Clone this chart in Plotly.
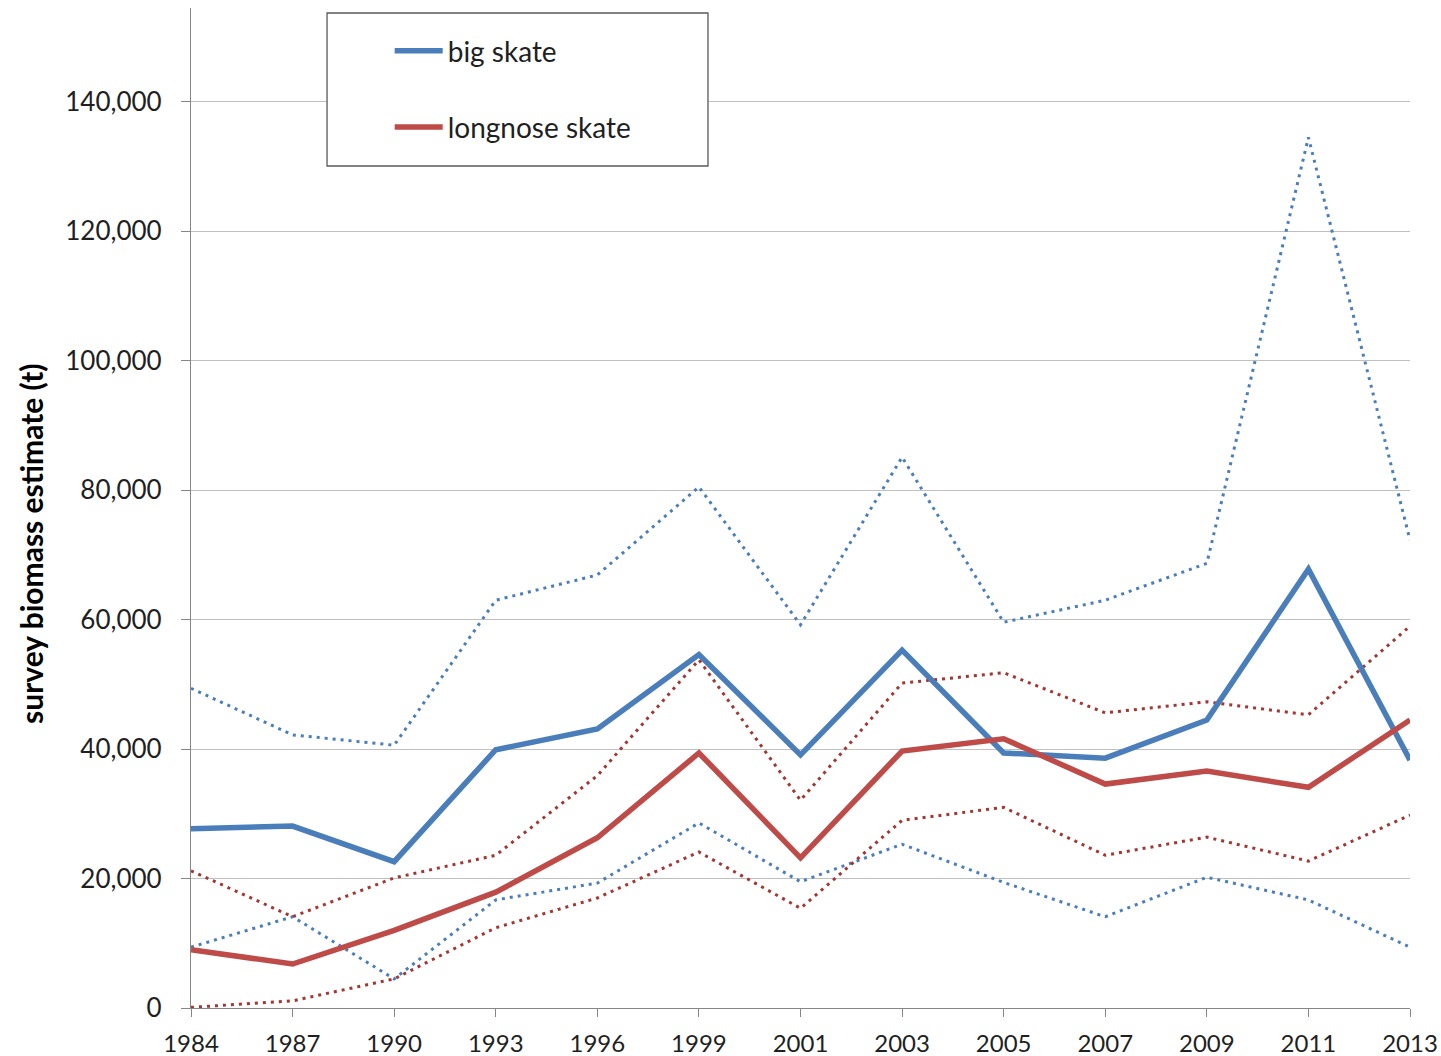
import plotly.graph_objects as go

# Survey years (categorical x axis)
years = ["1984", "1987", "1990", "1993", "1996", "1999", "2001",
         "2003", "2005", "2007", "2009", "2011", "2013"]

# Big skate biomass estimate (t) with lower / upper confidence bounds
big_skate = [27700, 28100, 22600, 39900, 43100, 54600, 39100,
             55300, 39400, 38600, 44500, 67800, 38300]
big_skate_upper = [49400, 42200, 40600, 63000, 66900, 80500, 59200,
                   85100, 59600, 63000, 68700, 134500, 72300]
big_skate_lower = [9400, 14100, 4500, 16700, 19300, 28600, 19500,
                   25300, 19400, 14100, 20200, 16700, 9400]

# Longnose skate biomass estimate (t) with lower / upper confidence bounds
longnose_skate = [9000, 6800, 12000, 17900, 26300, 39400, 23200,
                  39700, 41600, 34600, 36600, 34100, 44500]
longnose_upper = [21200, 14100, 20100, 23600, 35900, 53800, 32100,
                  50200, 51800, 45600, 47300, 45300, 59000]
longnose_lower = [100, 1100, 4500, 12400, 17000, 24100, 15400,
                  29000, 31000, 23600, 26400, 22700, 29800]

BLUE = "#4A7EBB"
RED = "#BE4B48"
RED_DOT = "#A33532"
FONT = "Lato"
TEXT = "#1F1F1F"

fig = go.Figure()

dot_style = dict(width=3, dash="3px,5px")

for vals, col in [(big_skate_upper, BLUE), (big_skate_lower, BLUE),
                  (longnose_upper, RED_DOT), (longnose_lower, RED_DOT)]:
    fig.add_trace(go.Scatter(x=years, y=vals, mode="lines",
                             line=dict(color=col, **dot_style),
                             showlegend=False, hoverinfo="skip"))

fig.add_trace(go.Scatter(x=years, y=big_skate, mode="lines",
                         name="big skate", legendgroup="big",
                         line=dict(color=BLUE, width=5.5)))
fig.add_trace(go.Scatter(x=years, y=longnose_skate, mode="lines",
                         name="longnose skate", legendgroup="longnose",
                         line=dict(color=RED, width=5.5)))

# Legend frame
fig.add_shape(type="rect", xref="paper", yref="paper",
              x0=0.1116, x1=0.4241, y0=0.842, y1=0.995,
              line=dict(color="#595959", width=1.3),
              fillcolor="white", layer="above")

# Rotated y-axis title
fig.add_annotation(text="<b>survey biomass estimate (t)</b>",
                   xref="paper", yref="paper",
                   x=-0.1313, y=0.465, xanchor="center", yanchor="middle",
                   textangle=-90, showarrow=False,
                   font=dict(family=FONT, size=30, color="#000000"))

fig.update_layout(
    width=1441, height=1056,
    margin=dict(l=191, r=31, t=8, b=48, autoexpand=False),
    paper_bgcolor="white", plot_bgcolor="white",
    font=dict(family=FONT, size=24, color=TEXT),
    showlegend=True,
    legend=dict(
        x=0.163, y=0.982, xanchor="left", yanchor="top",
        bgcolor="rgba(0,0,0,0)", borderwidth=0,
        font=dict(family=FONT, size=28, color=TEXT),
        traceorder="grouped", tracegroupgap=37,
        itemwidth=48,
    ),
    xaxis=dict(
        type="category", range=[0, 12], automargin=False,
        showgrid=False, showline=True, linecolor="#868686", linewidth=1.3,
        ticks="outside", ticklen=8, tickcolor="#868686", tickwidth=1.3,
        tickfont=dict(family=FONT, size=24, color=TEXT),
        ticklabelstandoff=6,
        zeroline=False,
    ),
    yaxis=dict(
        range=[0, 154500], automargin=False,
        tickvals=[0, 20000, 40000, 60000, 80000, 100000, 120000, 140000],
        tickformat=",d",
        showgrid=True, gridcolor="#C0C0C0", gridwidth=1.3,
        showline=True, linecolor="#868686", linewidth=1.3,
        ticks="outside", ticklen=9, tickcolor="#868686", tickwidth=1.3,
        tickfont=dict(family=FONT, size=26, color=TEXT),
        ticklabelstandoff=14,
        zeroline=False,
    ),
)

fig.write_html("out.html")
